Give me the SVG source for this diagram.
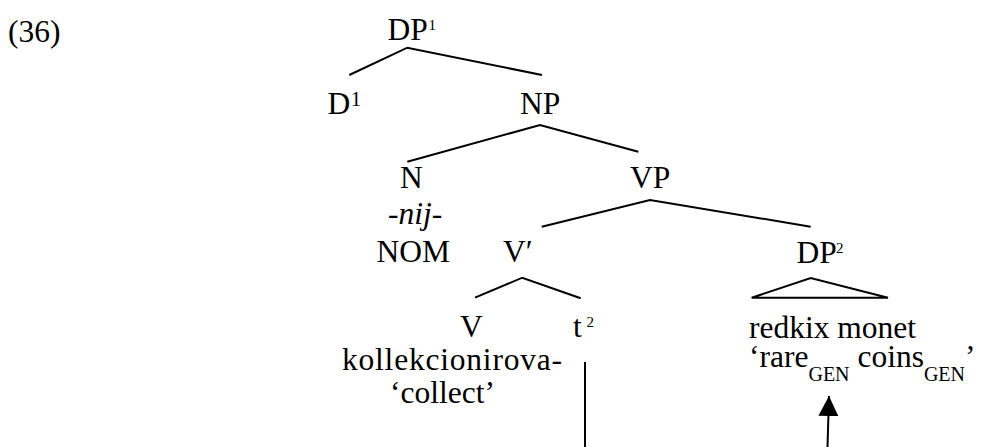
<svg xmlns="http://www.w3.org/2000/svg" width="984" height="447" viewBox="0 0 984 447" font-family="'Liberation Serif', 'Times New Roman', Times, 'DejaVu Serif', serif">
<style>
text{font-family:'Liberation Serif','Times New Roman',Times,'DejaVu Serif',serif;font-size:31.5px;fill:#000}
.sup{font-size:15px}
.sup2{font-size:21px}
.sub{font-size:20px}
.it{font-style:italic}
.edge{stroke:#000;stroke-width:2;fill:none}
</style>
<defs>
<marker id="ah" markerUnits="userSpaceOnUse" markerWidth="22" markerHeight="22" refX="20" refY="10" orient="auto" viewBox="0 0 22 22">
<path d="M0,0 L20,10 L0,20 Z" fill="#000"/>
</marker>
</defs>
<rect width="984" height="447" fill="#fff"/>
<g id="label"><text x="8" y="42">(36)</text></g>
<g id="connectors">
<polyline class="edge" points="349.3,75 407.3,47.7 542,75"/>
<polyline class="edge" points="407.3,161.7 540,125 638.3,151.7"/>
<polyline class="edge" points="541.7,226.7 650,200 810.7,226.7"/>
<polyline class="edge" points="475,297.7 522.3,277.7 580.7,298.3"/>
<polygon class="edge" points="751.7,297.7 810.7,278 888,297.7"/>
<line class="edge" x1="585" y1="362" x2="585" y2="447"/>
<line class="edge" x1="827.5" y1="447" x2="829" y2="396" marker-end="url(#ah)"/>
</g>
<g id="n-DP1"><text x="387.5" y="40">DP</text><text class="sup" x="428.5" y="30">1</text></g>
<g id="n-D1"><text x="327.5" y="113.5">D</text><text class="sup2" x="350.7" y="106">1</text></g>
<g id="n-NP"><text x="520" y="114">NP</text></g>
<g id="n-N"><text x="400" y="188">N</text><text class="it" x="388" y="224">-nij-</text><text x="376.5" y="262">NOM</text></g>
<g id="n-VP"><text x="630" y="188">VP</text></g>
<g id="n-Vbar"><text x="503" y="262">V′</text></g>
<g id="n-DP2"><text x="796.5" y="263">DP</text><text class="sup" x="836" y="253">2</text></g>
<g id="n-V"><text x="460" y="337">V</text><text x="342" y="370" textLength="220" lengthAdjust="spacing">kollekcionirova-</text><text x="390" y="403">‘collect’</text></g>
<g id="n-t"><text x="573" y="337">t</text><text class="sup" x="586.5" y="327">2</text></g>
<g id="n-DP2-content"><text x="749" y="338">redkix monet</text><text x="749" y="367">‘rare<tspan class="sub" dy="14">GEN</tspan><tspan dy="-14"> coins</tspan><tspan class="sub" dy="14">GEN</tspan><tspan dy="-14">’</tspan></text></g>
</svg>
